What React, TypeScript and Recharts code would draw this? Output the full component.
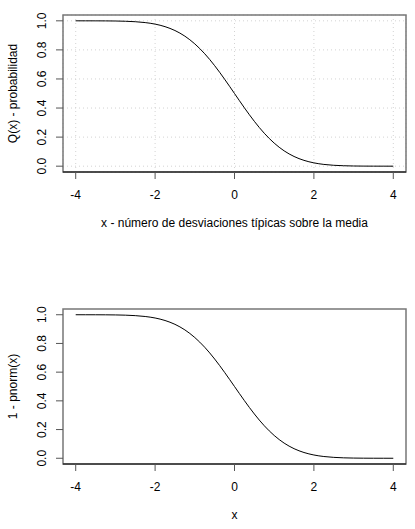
import { CartesianGrid, Label, Line, LineChart, ReferenceArea, XAxis, YAxis } from "recharts";

const xValues = [
    -4, -3.75, -3.5, -3.25, -3, -2.75, -2.5, -2.25, -2, -1.75, -1.5, -1.25, -1, -0.75, -0.5, -0.25,
    0, 0.25, 0.5, 0.75, 1, 1.25, 1.5, 1.75, 2, 2.25, 2.5, 2.75, 3, 3.25, 3.5, 3.75, 4,
];
const qValues = [
    1.0, 0.9999, 0.9998, 0.9994, 0.9987, 0.997, 0.9938, 0.9878, 0.9773, 0.9599, 0.9332, 0.8944,
    0.8413, 0.7734, 0.6915, 0.5987, 0.5, 0.4013, 0.3085, 0.2266, 0.1587, 0.1056, 0.0668, 0.0401,
    0.0228, 0.0122, 0.0062, 0.003, 0.0013, 0.0006, 0.0002, 0.0001, 0.0,
];
const xTicks = [-4, -2, 0, 2, 4];
const yTicks = [0, 0.2, 0.4, 0.6, 0.8, 1];
const yTickLabels = ["0.0", "0.2", "0.4", "0.6", "0.8", "1.0"];

const data = xValues.map((x, i) => ({ x, q: qValues[i] }));

const FONT = "'Liberation Sans', Arial, Helvetica, sans-serif";
const FS = 12;
const X_DOMAIN = [-4.32, 4.32];
const Y_DOMAIN = [-0.04, 1.04];

const XTick = ({ x, y, payload }) => (
    <text x={x} y={y + 20} textAnchor="middle" fontSize={FS} fontFamily={FONT} fill="#000">
        {payload.value}
    </text>
);

const YTick = ({ y, payload }) => {
    const idx = yTicks.indexOf(payload.value);
    return (
        <text x={46} y={y} transform={`rotate(-90 46 ${y})`} textAnchor="middle"
            fontSize={FS} fontFamily={FONT} fill="#000">
            {yTickLabels[idx]}
        </text>
    );
};

const XTitle = (text) => ({ viewBox }) => (
    <text x={viewBox.x + viewBox.width / 2} y={viewBox.y + 54.5} textAnchor="middle"
        fontSize={FS} fontFamily={FONT} fill="#000">
        {text}
    </text>
);

const YTitle = (text) => ({ viewBox }) => {
    const cy = viewBox.y + viewBox.height / 2;
    return (
        <text x={17} y={cy} transform={`rotate(-90 17 ${cy})`} textAnchor="middle"
            fontSize={FS} fontFamily={FONT} fill="#000">
            {text}
        </text>
    );
};

const Panel = ({ height, margin, xLabel, yLabel, grid }) => (
    <LineChart width={415} height={height} data={data} margin={margin}>
        {grid && (
            <CartesianGrid stroke="#d3d3d3" strokeDasharray="1 3" />
        )}
        <XAxis dataKey="x" type="number" domain={X_DOMAIN} ticks={xTicks} height={margin.xh}
            axisLine={{ stroke: "#000" }} tickLine={{ stroke: "#555" }} tickSize={7} tickMargin={0}
            tick={XTick} interval={0}>
            <Label content={XTitle(xLabel)} />
        </XAxis>
        <YAxis type="number" domain={Y_DOMAIN} ticks={yTicks} width={63} axisLine={false}
            tickLine={{ stroke: "#555" }} tickSize={7} tick={YTick} interval={0}>
            <Label content={YTitle(yLabel)} />
        </YAxis>
        <ReferenceArea x1={X_DOMAIN[0]} x2={X_DOMAIN[1]} y1={Y_DOMAIN[0]} y2={Y_DOMAIN[1]}
            fill="none" stroke="#777" strokeWidth={1.5} fillOpacity={0} />
        <Line type="monotone" dataKey="q" stroke="#000" strokeWidth={1} dot={false}
            isAnimationActive={false} />
    </LineChart>
);

export default function App() {
    return (
        <div style={{ position: "absolute", left: 0, top: 0, width: 415, height: 529, background: "#fff" }}>
            <Panel height={264} margin={{ top: 15, right: 9, left: 0, bottom: 32, xh: 60 }}
                xLabel="x - número de desviaciones típicas sobre la media" yLabel="Q(x) - probabilidad" grid />
            <Panel height={265} margin={{ top: 45, right: 9, left: 0, bottom: 5, xh: 60 }}
                xLabel="x" yLabel="1 - pnorm(x)" grid={false} />
        </div>
    );
}
